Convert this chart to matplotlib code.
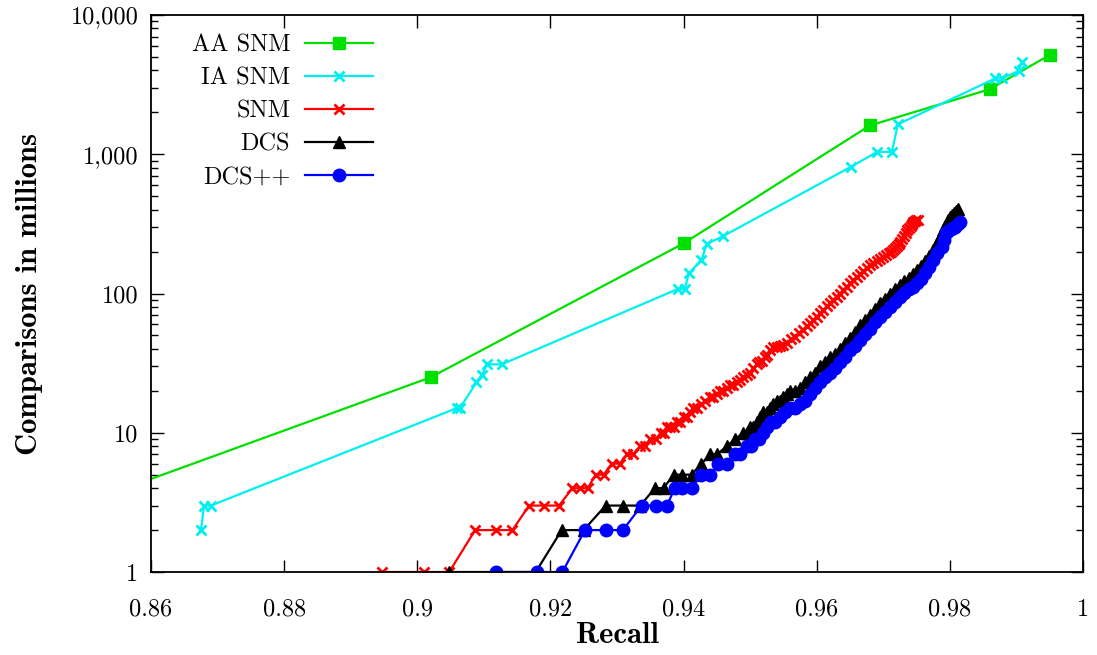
import matplotlib
matplotlib.use('Agg')
import matplotlib.pyplot as plt
from matplotlib.ticker import FixedLocator, LogLocator, NullFormatter

# fonts: computer modern like the LaTeX original
plt.rcParams['font.family'] = ['cmr10', 'DejaVu Serif']
plt.rcParams['axes.formatter.use_mathtext'] = True

# data (recall, comparisons in millions)
aa_x = [0.849, 0.902, 0.940, 0.968, 0.986, 0.995]
aa_y = [3.0, 25, 229, 1610, 2930, 5160]

ia_x = [0.8675, 0.8680, 0.8690, 0.9059, 0.9064, 0.9089, 0.9097, 0.9105, 0.9127,
        0.9392, 0.9402, 0.9408, 0.9427, 0.9435, 0.9460, 0.9652, 0.9691, 0.9713,
        0.9722, 0.9868, 0.9878, 0.9904, 0.9908]
ia_y = [2, 3, 3, 15, 15, 23, 26, 31, 31,
        108, 108, 140, 174, 227, 259, 815, 1040, 1040,
        1640, 3500, 3500, 3980, 4620]

snm_x = [0.8947, 0.9010, 0.9048, 0.9087, 0.9118, 0.9143, 0.9168, 0.9191, 0.9213,
         0.9233, 0.9244, 0.9256, 0.9268, 0.9280, 0.9292, 0.9304, 0.9315, 0.9324,
         0.9335, 0.9342, 0.9350, 0.9358, 0.9366, 0.9370, 0.9375, 0.9380, 0.9385,
         0.9390, 0.9395, 0.9400, 0.9405, 0.9410, 0.9414, 0.9420, 0.9427, 0.9433,
         0.9440, 0.9445, 0.9450, 0.9455, 0.9459, 0.9465, 0.9470, 0.9475, 0.9480,
         0.9485, 0.9490, 0.9495, 0.9500, 0.9505, 0.9510, 0.9514, 0.9518, 0.9522,
         0.9525, 0.9530, 0.9534, 0.9540, 0.9545, 0.9550, 0.9555, 0.9561, 0.9567,
         0.9573, 0.9579, 0.9585, 0.9590, 0.9595, 0.9600, 0.9605, 0.9610, 0.9615,
         0.9620, 0.9625, 0.9630, 0.9635, 0.9640, 0.9645, 0.9650, 0.9655, 0.9661,
         0.9665, 0.9670, 0.9675, 0.9680, 0.9685, 0.9690, 0.9695, 0.9700, 0.9704,
         0.9708, 0.9712, 0.9715, 0.9718, 0.9720, 0.9723, 0.9725, 0.9728, 0.9731,
         0.9734, 0.9736, 0.9739, 0.9741, 0.9743, 0.9745, 0.9747, 0.9749, 0.9752]
snm_y = [1, 1, 1, 2, 2, 2, 3, 3, 3,
         4, 4, 4, 5, 5, 6, 6, 7, 7,
         8, 8, 9, 9, 10, 10, 11, 11, 11,
         12, 12, 13, 13, 14, 15, 15, 16, 17,
         18, 18, 19, 20, 20, 21, 22, 22, 23,
         24, 25, 26, 27, 29, 31, 32, 33, 35,
         36, 39, 41, 41, 42, 43, 44, 47, 49,
         52, 55, 58, 61, 64, 68, 72, 76, 81,
         86, 90, 95, 100, 106, 112, 118, 124, 131,
         137, 145, 152, 160, 166, 172, 177, 183, 189,
         195, 200, 205, 211, 218, 226, 234, 246, 260,
         273, 286, 296, 305, 315, 326, 330, 335, 338]

dcs_x = [0.9048, 0.9178, 0.9217, 0.9250, 0.9283, 0.9309, 0.9335, 0.9357, 0.9370,
         0.9385, 0.9397, 0.9412, 0.9427, 0.9440, 0.9450, 0.9465, 0.9477, 0.9490,
         0.9495, 0.9500, 0.9505, 0.9510, 0.9515, 0.9520, 0.9525, 0.9530, 0.9535,
         0.9540, 0.9545, 0.9550, 0.9555, 0.9560, 0.9567, 0.9575, 0.9582, 0.9590,
         0.9597, 0.9605, 0.9612, 0.9620, 0.9627, 0.9635, 0.9642, 0.9650, 0.9657,
         0.9665, 0.9672, 0.9680, 0.9687, 0.9695, 0.9702, 0.9710, 0.9717, 0.9725,
         0.9731, 0.9738, 0.9744, 0.9750, 0.9756, 0.9762, 0.9768, 0.9775, 0.9779,
         0.9783, 0.9787, 0.9790, 0.9793, 0.9796, 0.9798, 0.9800, 0.9803, 0.9806,
         0.9810, 0.9813]
dcs_y = [1, 1, 2, 2, 3, 3, 3, 4, 4,
         5, 5, 5, 6, 7, 7, 8, 9, 10,
         10, 11, 11, 12, 13, 14, 14, 15, 16,
         17, 17, 18, 19, 20, 20, 21, 23, 25,
         27, 30, 32, 35, 37, 40, 44, 48, 53,
         59, 64, 70, 77, 85, 92, 100, 107, 115,
         122, 130, 138, 147, 158, 170, 186, 205, 222,
         240, 262, 286, 303, 320, 338, 356, 368, 380,
         393, 405]

dcspp_x = [0.9118, 0.9180, 0.9218, 0.9252, 0.9283, 0.9309, 0.9337, 0.9358, 0.9375,
           0.9387, 0.9397, 0.9412, 0.9427, 0.9440, 0.9452, 0.9465, 0.9477, 0.9485,
           0.9495, 0.9501, 0.9507, 0.9513, 0.9520, 0.9526, 0.9532, 0.9538, 0.9545,
           0.9552, 0.9560, 0.9567, 0.9575, 0.9582, 0.9590, 0.9597, 0.9605, 0.9612,
           0.9620, 0.9627, 0.9635, 0.9642, 0.9650, 0.9657, 0.9665, 0.9672, 0.9680,
           0.9687, 0.9695, 0.9702, 0.9710, 0.9717, 0.9725, 0.9731, 0.9738, 0.9744,
           0.9750, 0.9756, 0.9762, 0.9768, 0.9775, 0.9781, 0.9788, 0.9791, 0.9795,
           0.9798, 0.9802, 0.9805, 0.9808, 0.9812, 0.9815]
dcspp_y = [1, 1, 1, 2, 2, 2, 3, 3, 3,
           4, 4, 4, 5, 5, 6, 6, 7, 7,
           8, 8, 9, 9, 10, 11, 12, 12, 13,
           14, 15, 15, 16, 17, 19, 21, 23, 25,
           27, 29, 32, 35, 39, 42, 46, 51, 56,
           62, 68, 74, 80, 87, 95, 101, 108, 112,
           118, 128, 140, 156, 174, 195, 217, 243, 271,
           280, 290, 296, 302, 313, 325]

x_ticks = [0.86, 0.88, 0.90, 0.92, 0.94, 0.96, 0.98, 1.00]
y_ticks = [1, 10, 100, 1000, 10000]

fig = plt.figure(figsize=(10.97, 6.55), dpi=100)
ax = fig.add_axes([0.1376, 0.1267, 0.8496, 0.8504])

ax.plot(aa_x, aa_y, color='#00e000', lw=1.6, marker='s', ms=8, label='AA SNM')
ax.plot(ia_x, ia_y, color='#00f0f0', lw=1.6, marker='x', ms=7, mew=2, label='IA SNM')
ax.plot(snm_x, snm_y, color='#ff0000', lw=1.6, marker='x', ms=7, mew=2, label='SNM')
ax.plot(dcs_x, dcs_y, color='black', lw=1.6, marker='^', ms=8, label='DCS')
ax.plot(dcspp_x, dcspp_y, color='#0000ff', lw=1.6, marker='o', ms=9, label='DCS++')

ax.set_yscale('log')
ax.set_xlim(0.86, 1.0)
ax.set_ylim(1, 10000)

ax.xaxis.set_major_locator(FixedLocator(x_ticks))
ax.set_xticklabels(['%g' % v for v in x_ticks])
ax.yaxis.set_major_locator(FixedLocator(y_ticks))
ax.set_yticklabels(['{:,}'.format(v) for v in y_ticks])
ax.yaxis.set_minor_locator(LogLocator(base=10, subs=range(2, 10)))
ax.yaxis.set_minor_formatter(NullFormatter())

ax.tick_params(which='both', direction='in', top=True, right=True, width=1.0)
ax.tick_params(which='major', length=9)
ax.tick_params(which='minor', length=5)
ax.tick_params(axis='x', which='major', pad=19, labelsize=17.5)
ax.tick_params(axis='y', which='major', pad=9, labelsize=17.5)
for sp in ax.spines.values():
    sp.set_linewidth(1.3)

ax.set_xlabel('Recall', fontsize=22, family='cmb10', labelpad=1)
ax.set_ylabel('Comparisons in millions', fontsize=22, family='cmb10', labelpad=20)

ax.legend(loc='upper right', bbox_to_anchor=(0.238, 0.965), frameon=False,
          markerfirst=False, numpoints=1, fontsize=17.5, handlelength=2.8,
          labelspacing=0.45, borderpad=0, borderaxespad=0, handletextpad=0.6)

fig.savefig('out.png', dpi=100)
